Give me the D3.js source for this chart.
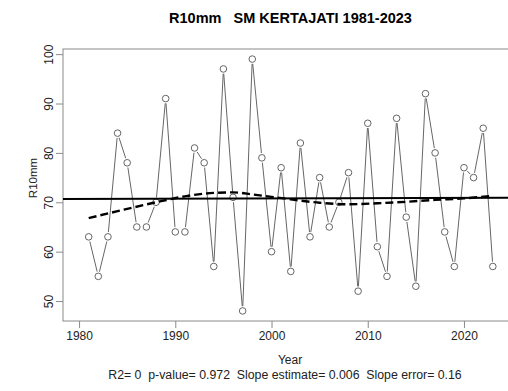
<!DOCTYPE html>
<html>
<head>
<meta charset="utf-8">
<style>
    body { margin: 0; background: white; }
    svg { display: block; font-family: Arial, "Liberation Sans", sans-serif; }
</style>
<script src="https://cdn.jsdelivr.net/npm/d3@7"></script>
</head>
<body>
<svg id="chart" width="508" height="391"></svg>
<script>
// annual R10mm counts
let years = d3.range(1981, 2024)
let r10mm = [63, 55, 63, 84, 78, 65, 65, 70, 91, 64,
             64, 81, 78, 57, 97, 71, 48, 99, 79, 60,
             77, 56, 82, 63, 75, 65, 70, 76, 52, 86,
             61, 55, 87, 67, 53, 92, 80, 64, 57, 77,
             75, 85, 57]
// dashed smooth curve
let smoothYears = [1981, 1984, 1988, 1991, 1994, 1996, 1998, 2000, 2002, 2005, 2008, 2011, 2014, 2017, 2020, 2023]
let smoothValues = [66.8, 68.2, 70.0, 71.2, 71.9, 72.0, 71.6, 71.1, 70.6, 69.9, 69.6, 69.8, 70.1, 70.5, 70.8, 71.3]
let xTicks = [1980, 1990, 2000, 2010, 2020]
let yTicks = [50, 60, 70, 80, 90, 100]
let title = "R10mm   SM KERTAJATI 1981-2023"
let statsText = "R2= 0  p-value= 0.972  Slope estimate= 0.006  Slope error= 0.16"

let svg = d3.select("#chart")
let plotL = 63, plotR = 509, plotT = 49, plotB = 321

let x = d3.scaleLinear().domain([1978.33, 2024.68]).range([plotL, plotR])
let y = d3.scaleLinear().domain([45.96, 101.04]).range([plotB, plotT])

// box
svg.append("rect")
    .attr("x", plotL).attr("y", plotT)
    .attr("width", plotR - plotL).attr("height", plotB - plotT)
    .attr("fill", "none").attr("stroke", "#8a8a8a").attr("stroke-width", 1)

// axes
let xAxis = svg.append("g").attr("transform", `translate(0,${plotB})`)
    .call(d3.axisBottom(x).tickValues(xTicks).tickFormat(d3.format("d")).tickSize(7).tickPadding(3))
let yAxis = svg.append("g").attr("transform", `translate(${plotL},0)`)
    .call(d3.axisLeft(y).tickValues(yTicks).tickSize(7).tickPadding(3))
xAxis.select(".domain").remove()
yAxis.select(".domain").remove()
svg.selectAll(".tick line").attr("stroke", "#8a8a8a")
svg.selectAll(".tick text").attr("fill", "#222").style("font-size", "12px").style("font-family", "Arial, 'Liberation Sans', sans-serif")
yAxis.selectAll(".tick text")
    .attr("x", null).attr("dy", null)
    .attr("text-anchor", "middle")
    .attr("transform", "translate(-14,0) rotate(-90)")
    .attr("dy", "0.35em")

// connecting lines with gaps around the points (type "b")
let pts = years.map((yr, i) => [x(yr), y(r10mm[i])])
let gap = 4.8
let segs = []
for (let i = 0; i < pts.length - 1; i++) {
    let [x1, y1] = pts[i], [x2, y2] = pts[i + 1]
    let len = Math.hypot(x2 - x1, y2 - y1)
    if (len <= 2 * gap) continue
    let ux = (x2 - x1) / len, uy = (y2 - y1) / len
    segs.push([x1 + ux * gap, y1 + uy * gap, x2 - ux * gap, y2 - uy * gap])
}
svg.append("g").selectAll("line").data(segs).enter().append("line")
    .attr("x1", d => d[0]).attr("y1", d => d[1])
    .attr("x2", d => d[2]).attr("y2", d => d[3])
    .attr("stroke", "#555").attr("stroke-width", 0.9)

svg.append("g").selectAll("circle").data(years).enter().append("circle")
    .attr("cx", d => x(d))
    .attr("cy", (d, i) => y(r10mm[i]))
    .attr("r", 3.3)
    .attr("fill", "none").attr("stroke", "#555").attr("stroke-width", 0.9)

// linear trend line fitted to the series
let mx = d3.mean(years), my = d3.mean(r10mm)
let slope = d3.sum(years, (yr, i) => (yr - mx) * (r10mm[i] - my)) / d3.sum(years, yr => (yr - mx) * (yr - mx))
let fit = yr => my + slope * (yr - mx)
svg.append("line")
    .attr("x1", plotL).attr("x2", plotR)
    .attr("y1", y(fit(x.invert(plotL)))).attr("y2", y(fit(x.invert(plotR))))
    .attr("stroke", "#000").attr("stroke-width", 2)

// dashed smooth
let smoothLine = d3.line()
    .x((d, i) => x(smoothYears[i]))
    .y(d => y(d))
    .curve(d3.curveMonotoneX)
svg.append("path")
    .datum(smoothValues)
    .attr("d", smoothLine)
    .attr("fill", "none").attr("stroke", "#000")
    .attr("stroke-width", 2.4).attr("stroke-dasharray", "8,4")

// texts
svg.append("text")
    .attr("x", 290.5).attr("y", 23)
    .attr("text-anchor", "middle")
    .style("font-size", "14.5px").style("font-weight", "bold")
    .style("white-space", "pre")
    .text(title)

svg.append("text")
    .attr("transform", "translate(37,178) rotate(-90)")
    .attr("text-anchor", "middle")
    .style("font-size", "11.5px").attr("fill", "#222")
    .text("R10mm")

svg.append("text")
    .attr("x", 290).attr("y", 364)
    .attr("text-anchor", "middle")
    .style("font-size", "12px").attr("fill", "#222")
    .text("Year")

svg.append("text")
    .attr("x", 285).attr("y", 379)
    .attr("text-anchor", "middle")
    .style("font-size", "12.3px").attr("fill", "#222")
    .style("white-space", "pre")
    .text(statsText)
</script>
</body>
</html>
